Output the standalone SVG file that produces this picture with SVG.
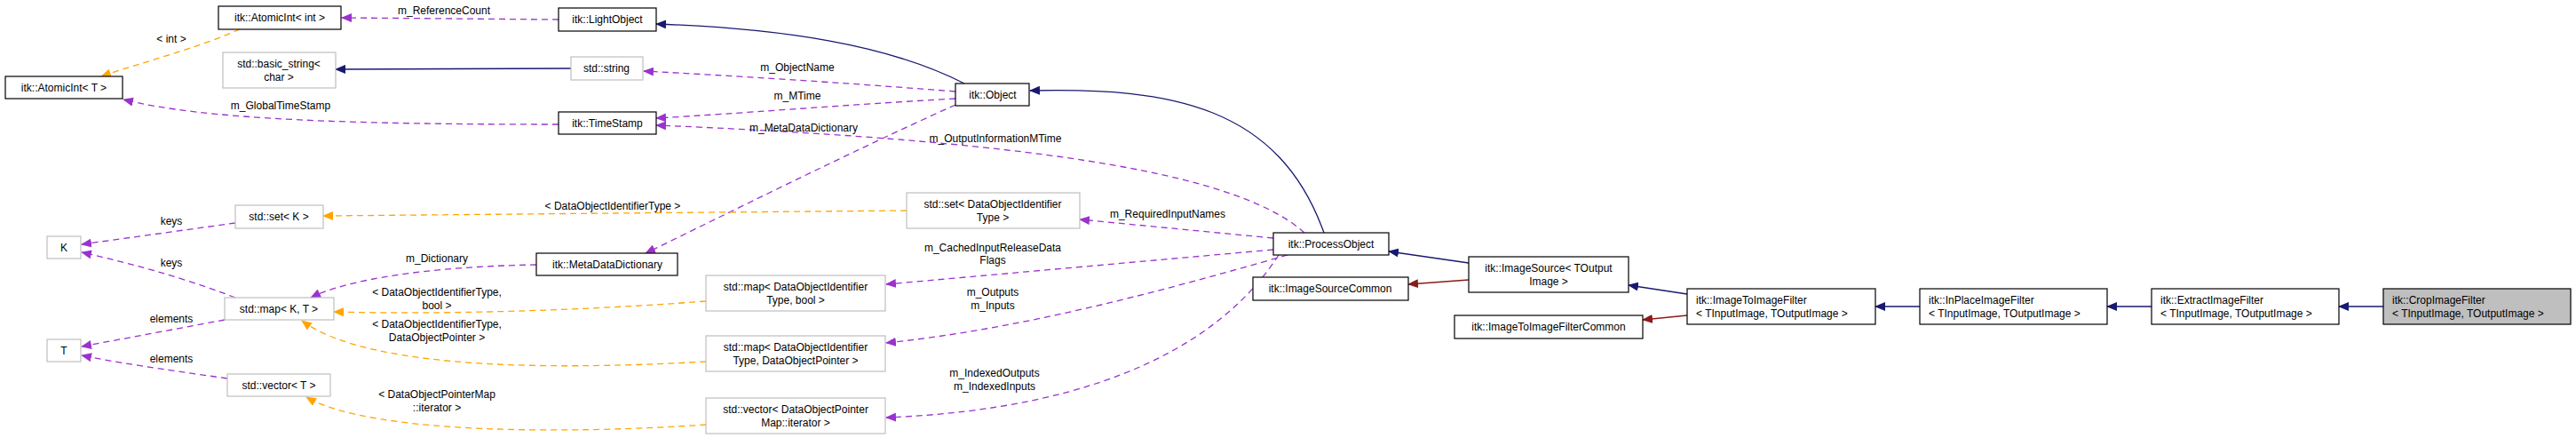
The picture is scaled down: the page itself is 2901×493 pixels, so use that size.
<svg xmlns="http://www.w3.org/2000/svg" width="2901" height="493" viewBox="0 0 2901 493">
<style>
text{font-family:"Liberation Sans",Arial,sans-serif;font-size:12px;fill:#000}
.n rect{fill:#fff;stroke:#000;stroke-width:1.2}
.g rect{stroke:#bfbfbf}
.c{text-anchor:middle}
.e path{fill:none;stroke-width:1.3}
.nv{stroke:#191970}
.rd{stroke:#8b1a1a}
.pu{stroke:#9a32cd;stroke-dasharray:7,5}
.or{stroke:#ffa500;stroke-dasharray:7,5}
</style>
<defs>
<marker id="an" markerWidth="12" markerHeight="10" refX="11" refY="5" orient="auto" markerUnits="userSpaceOnUse"><path d="M0,0L12,5L0,10z" fill="#191970"/></marker>
<marker id="ar" markerWidth="12" markerHeight="10" refX="11" refY="5" orient="auto" markerUnits="userSpaceOnUse"><path d="M0,0L12,5L0,10z" fill="#8b1a1a"/></marker>
<marker id="ap" markerWidth="12" markerHeight="10" refX="11" refY="5" orient="auto" markerUnits="userSpaceOnUse"><path d="M0,0L12,5L0,10z" fill="#9a32cd"/></marker>
<marker id="ao" markerWidth="12" markerHeight="10" refX="11" refY="5" orient="auto" markerUnits="userSpaceOnUse"><path d="M0,0L12,5L0,10z" fill="#ffa500"/></marker>
</defs>
<g id="edges" class="e">
<path class="nv" marker-end="url(#an)" d="M1086,94 C1000,50 880,32 739,27"/>
<path class="nv" marker-end="url(#an)" d="M1491,262 C1440,120 1320,98 1160,102"/>
<path class="nv" marker-end="url(#an)" d="M1654,296 L1564,283"/>
<path class="rd" marker-end="url(#ar)" d="M1654,315 L1586,320"/>
<path class="nv" marker-end="url(#an)" d="M1900,331 L1834,321"/>
<path class="rd" marker-end="url(#ar)" d="M1900,355 L1850,360"/>
<path class="nv" marker-end="url(#an)" d="M2162,345 L2112,345"/>
<path class="nv" marker-end="url(#an)" d="M2423,345 L2373,345"/>
<path class="nv" marker-end="url(#an)" d="M2684,345 L2634,345"/>
<path class="nv" marker-end="url(#an)" d="M643,77 L378,78"/>
<path class="pu" marker-end="url(#ap)" d="M629,22 L385,20"/>
<path class="or" marker-end="url(#ao)" d="M270,33 C220,55 160,70 114,86"/>
<path class="pu" marker-end="url(#ap)" d="M1076,103 C950,93 820,85 725,80"/>
<path class="pu" marker-end="url(#ap)" d="M1076,111 C950,118 830,128 739,133"/>
<path class="pu" marker-end="url(#ap)" d="M629,140 C400,140 230,135 139,112"/>
<path class="pu" marker-end="url(#ap)" d="M1469,262 C1400,200 1200,160 739,141"/>
<path class="pu" marker-end="url(#ap)" d="M1076,118 C960,170 820,240 727,285"/>
<path class="or" marker-end="url(#ao)" d="M1021,237 L364,243"/>
<path class="pu" marker-end="url(#ap)" d="M265,251 L92,275"/>
<path class="pu" marker-end="url(#ap)" d="M265,335 C200,310 140,295 92,284"/>
<path class="pu" marker-end="url(#ap)" d="M253,360 L92,390"/>
<path class="pu" marker-end="url(#ap)" d="M256,426 C180,415 130,408 92,400"/>
<path class="pu" marker-end="url(#ap)" d="M604,298 C480,300 390,315 350,335"/>
<path class="or" marker-end="url(#ao)" d="M795,339 C650,350 500,354 376,351"/>
<path class="or" marker-end="url(#ao)" d="M795,407 C650,415 420,420 340,361"/>
<path class="or" marker-end="url(#ao)" d="M795,478 C650,488 420,490 345,447"/>
<path class="pu" marker-end="url(#ap)" d="M1434,268 L1216,247"/>
<path class="pu" marker-end="url(#ap)" d="M1434,281 L998,320"/>
<path class="pu" marker-end="url(#ap)" d="M1450,287 C1300,330 1150,370 998,386"/>
<path class="pu" marker-end="url(#ap)" d="M1440,287 C1380,380 1250,460 998,470"/>
</g>
<g id="labels" class="c">
<text x="500" y="16">m_ReferenceCount</text>
<text x="193" y="48">&lt; int &gt;</text>
<text x="898" y="80">m_ObjectName</text>
<text x="898" y="112">m_MTime</text>
<text x="316" y="123">m_GlobalTimeStamp</text>
<text x="905" y="148">m_MetaDataDictionary</text>
<text x="1121" y="160">m_OutputInformationMTime</text>
<text x="690" y="236">&lt; DataObjectIdentifierType &gt;</text>
<text x="193" y="253">keys</text>
<text x="193" y="300">keys</text>
<text x="193" y="363">elements</text>
<text x="193" y="408">elements</text>
<text x="492" y="295">m_Dictionary</text>
<text x="492" y="333">&lt; DataObjectIdentifierType,</text>
<text x="492" y="348">bool &gt;</text>
<text x="492" y="369">&lt; DataObjectIdentifierType,</text>
<text x="492" y="384">DataObjectPointer &gt;</text>
<text x="492" y="448">&lt; DataObjectPointerMap</text>
<text x="492" y="463">::iterator &gt;</text>
<text x="1315" y="245">m_RequiredInputNames</text>
<text x="1118" y="283">m_CachedInputReleaseData</text>
<text x="1118" y="297">Flags</text>
<text x="1118" y="333">m_Outputs</text>
<text x="1118" y="348">m_Inputs</text>
<text x="1120" y="424">m_IndexedOutputs</text>
<text x="1120" y="439">m_IndexedInputs</text>
</g>
<g id="AtomicIntInt" class="n"><rect x="246" y="7" width="138" height="26"/><text class="c" x="315" y="24">itk::AtomicInt&lt; int &gt;</text></g>
<g id="LightObject" class="n"><rect x="629" y="9" width="110" height="26"/><text class="c" x="684" y="26">itk::LightObject</text></g>
<g id="AtomicIntT" class="n"><rect x="6" y="86" width="132" height="25"/><text class="c" x="72" y="103">itk::AtomicInt&lt; T &gt;</text></g>
<g id="basic_string" class="n g"><rect x="251" y="59" width="127" height="40"/><text class="c" x="314" y="76">std::basic_string&lt;</text><text class="c" x="314" y="91">char &gt;</text></g>
<g id="string" class="n g"><rect x="643" y="64" width="81" height="26"/><text class="c" x="683" y="81">std::string</text></g>
<g id="TimeStamp" class="n"><rect x="629" y="126" width="110" height="25"/><text class="c" x="684" y="143">itk::TimeStamp</text></g>
<g id="Object" class="n"><rect x="1076" y="94" width="83" height="25"/><text class="c" x="1118" y="111">itk::Object</text></g>
<g id="setK" class="n g"><rect x="265" y="231" width="99" height="26"/><text class="c" x="314" y="248">std::set&lt; K &gt;</text></g>
<g id="K" class="n g"><rect x="53" y="266" width="38" height="25"/><text class="c" x="72" y="283">K</text></g>
<g id="MetaDataDictionary" class="n"><rect x="604" y="285" width="159" height="25"/><text class="c" x="684" y="302">itk::MetaDataDictionary</text></g>
<g id="mapKT" class="n g"><rect x="253" y="335" width="123" height="25"/><text class="c" x="314" y="352">std::map&lt; K, T &gt;</text></g>
<g id="T" class="n g"><rect x="53" y="382" width="38" height="25"/><text class="c" x="72" y="399">T</text></g>
<g id="vectorT" class="n g"><rect x="256" y="421" width="116" height="25"/><text class="c" x="314" y="438">std::vector&lt; T &gt;</text></g>
<g id="setDOIT" class="n g"><rect x="1021" y="217" width="195" height="40"/><text class="c" x="1118" y="234">std::set&lt; DataObjectIdentifier</text><text class="c" x="1118" y="249">Type &gt;</text></g>
<g id="mapBool" class="n g"><rect x="795" y="310" width="202" height="40"/><text class="c" x="896" y="327">std::map&lt; DataObjectIdentifier</text><text class="c" x="896" y="342">Type, bool &gt;</text></g>
<g id="mapDOP" class="n g"><rect x="795" y="378" width="202" height="40"/><text class="c" x="896" y="395">std::map&lt; DataObjectIdentifier</text><text class="c" x="896" y="410">Type, DataObjectPointer &gt;</text></g>
<g id="vectorDOP" class="n g"><rect x="795" y="448" width="202" height="40"/><text class="c" x="896" y="465">std::vector&lt; DataObjectPointer</text><text class="c" x="896" y="480">Map::iterator &gt;</text></g>
<g id="ProcessObject" class="n"><rect x="1434" y="262" width="130" height="25"/><text class="c" x="1499" y="279">itk::ProcessObject</text></g>
<g id="ImageSourceCommon" class="n"><rect x="1411" y="312" width="175" height="26"/><text class="c" x="1498" y="329">itk::ImageSourceCommon</text></g>
<g id="ImageSource" class="n"><rect x="1654" y="289" width="180" height="40"/><text class="c" x="1744" y="306">itk::ImageSource&lt; TOutput</text><text class="c" x="1744" y="321">Image &gt;</text></g>
<g id="ITIFCommon" class="n"><rect x="1638" y="355" width="212" height="26"/><text class="c" x="1744" y="372">itk::ImageToImageFilterCommon</text></g>
<g id="ITIF" class="n"><rect x="1900" y="325" width="212" height="40"/><text x="1910" y="342">itk::ImageToImageFilter</text><text x="1910" y="357">&lt; TInputImage, TOutputImage &gt;</text></g>
<g id="InPlace" class="n"><rect x="2162" y="325" width="211" height="40"/><text x="2172" y="342">itk::InPlaceImageFilter</text><text x="2172" y="357">&lt; TInputImage, TOutputImage &gt;</text></g>
<g id="Extract" class="n"><rect x="2423" y="325" width="211" height="40"/><text x="2433" y="342">itk::ExtractImageFilter</text><text x="2433" y="357">&lt; TInputImage, TOutputImage &gt;</text></g>
<g id="Crop" class="n"><rect x="2684" y="325" width="211" height="40" style="fill:#bfbfbf"/><text x="2694" y="342">itk::CropImageFilter</text><text x="2694" y="357">&lt; TInputImage, TOutputImage &gt;</text></g>
</svg>
